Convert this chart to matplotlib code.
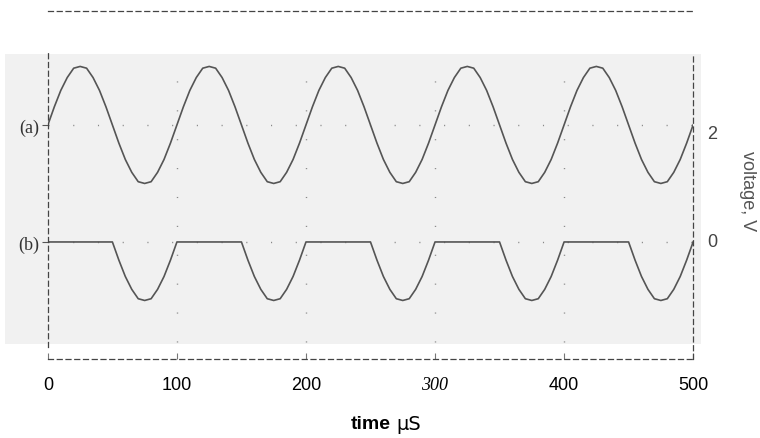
import matplotlib.pyplot as plt
from matplotlib.patches import Rectangle

# sample times in microseconds (every 5 us)
time_us = list(range(0, 505, 5))

# trace (a): sine around the 2 V level
trace_a = [
    2.00, 2.31, 2.59, 2.81, 2.97, 3.00, 2.97, 2.81, 2.59, 2.31,
    2.00, 1.69, 1.41, 1.19, 1.03, 1.00, 1.03, 1.19, 1.41, 1.69,
    2.00, 2.31, 2.59, 2.81, 2.97, 3.00, 2.97, 2.81, 2.59, 2.31,
    2.00, 1.69, 1.41, 1.19, 1.03, 1.00, 1.03, 1.19, 1.41, 1.69,
    2.00, 2.31, 2.59, 2.81, 2.97, 3.00, 2.97, 2.81, 2.59, 2.31,
    2.00, 1.69, 1.41, 1.19, 1.03, 1.00, 1.03, 1.19, 1.41, 1.69,
    2.00, 2.31, 2.59, 2.81, 2.97, 3.00, 2.97, 2.81, 2.59, 2.31,
    2.00, 1.69, 1.41, 1.19, 1.03, 1.00, 1.03, 1.19, 1.41, 1.69,
    2.00, 2.31, 2.59, 2.81, 2.97, 3.00, 2.97, 2.81, 2.59, 2.31,
    2.00, 1.69, 1.41, 1.19, 1.03, 1.00, 1.03, 1.19, 1.41, 1.69,
    2.00,
]

# trace (b): clipped at 0 V, only the negative half-cycles remain
trace_b = [
    0.00, 0.00, 0.00, 0.00, 0.00, 0.00, 0.00, 0.00, 0.00, 0.00,
    0.00, -0.31, -0.59, -0.81, -0.97, -1.00, -0.97, -0.81, -0.59, -0.31,
    0.00, 0.00, 0.00, 0.00, 0.00, 0.00, 0.00, 0.00, 0.00, 0.00,
    0.00, -0.31, -0.59, -0.81, -0.97, -1.00, -0.97, -0.81, -0.59, -0.31,
    0.00, 0.00, 0.00, 0.00, 0.00, 0.00, 0.00, 0.00, 0.00, 0.00,
    0.00, -0.31, -0.59, -0.81, -0.97, -1.00, -0.97, -0.81, -0.59, -0.31,
    0.00, 0.00, 0.00, 0.00, 0.00, 0.00, 0.00, 0.00, 0.00, 0.00,
    0.00, -0.31, -0.59, -0.81, -0.97, -1.00, -0.97, -0.81, -0.59, -0.31,
    0.00, 0.00, 0.00, 0.00, 0.00, 0.00, 0.00, 0.00, 0.00, 0.00,
    0.00, -0.31, -0.59, -0.81, -0.97, -1.00, -0.97, -0.81, -0.59, -0.31,
    0.00,
]

xtick_values = [0, 100, 200, 300, 400, 500]
xtick_labels = ['0', '100', '200', '300', '400', '500']
trace_levels = [0, 2]
trace_names = ['(b)', '(a)']
right_levels = [2, 0]
right_labels = ['2', '0']

fig = plt.figure(figsize=(7.6, 4.39), dpi=100)

ax = fig.add_axes([0.063, 0.18, 0.849, 0.793])
ax.set_facecolor('none')
ax.set_xlim(0, 500)
ax.set_ylim(-2.0, 3.95)

# faint scanned-paper background behind the traces
ax.add_patch(Rectangle((0.007, 0.214), 0.915, 0.661, transform=fig.transFigure,
                       facecolor='#f1f1f1', edgecolor='none', zorder=0, clip_on=False))

for spine in ax.spines.values():
    spine.set_linestyle((0, (4, 3)))
    spine.set_linewidth(0.9)
    spine.set_color('#444444')
    spine.set_zorder(4)
ax.spines['left'].set_bounds(-1.8, 3.23)
ax.spines['right'].set_bounds(-2.0, 3.23)

# dotted graticule, only inside the shaded area
for xv in xtick_values[1:-1]:
    ax.axvline(xv, ymin=0.05, ymax=0.87, color='#888888', lw=1.0,
               linestyle=(0, (0.8, 20)), zorder=1)
for yv in trace_levels:
    ax.axhline(yv, color='#888888', lw=1.0, linestyle=(0, (0.8, 17)), zorder=1)

ax.plot(time_us, trace_a, color='#555555', lw=1.2, zorder=3)
ax.plot(time_us, trace_b, color='#555555', lw=1.2, zorder=3)

ax.set_xticks(xtick_values)
ax.set_xticklabels(xtick_labels, fontsize=13, family='Liberation Sans')
ax.tick_params(axis='x', direction='in', length=4, pad=12, color='#777777')
lbl300 = ax.get_xticklabels()[3]
lbl300.set_fontfamily('Liberation Serif')
lbl300.set_fontstyle('italic')

ax.set_yticks(trace_levels)
ax.set_yticklabels(trace_names, fontsize=13, family='Liberation Serif', color='#333333')
ax.tick_params(axis='y', direction='out', length=4, pad=2, color='#555555')

for yv, txt in zip(right_levels, right_labels):
    ax.text(511, yv - (0.15 if yv else 0), txt, fontsize=13, family='Liberation Sans',
            color='#444444', ha='left', va='center')

fig.text(0.983, 0.565, 'voltage, V', rotation=-90, fontsize=13, family='Liberation Sans',
         color='#555555', ha='center', va='center')

fig.text(0.514, 0.032, 'time', fontsize=14, family='Liberation Sans', weight='bold',
         ha='right', va='center')
fig.text(0.521, 0.032, 'μS', fontsize=14, family='DejaVu Sans', ha='left', va='center')

fig.savefig('out.png', dpi=100)
